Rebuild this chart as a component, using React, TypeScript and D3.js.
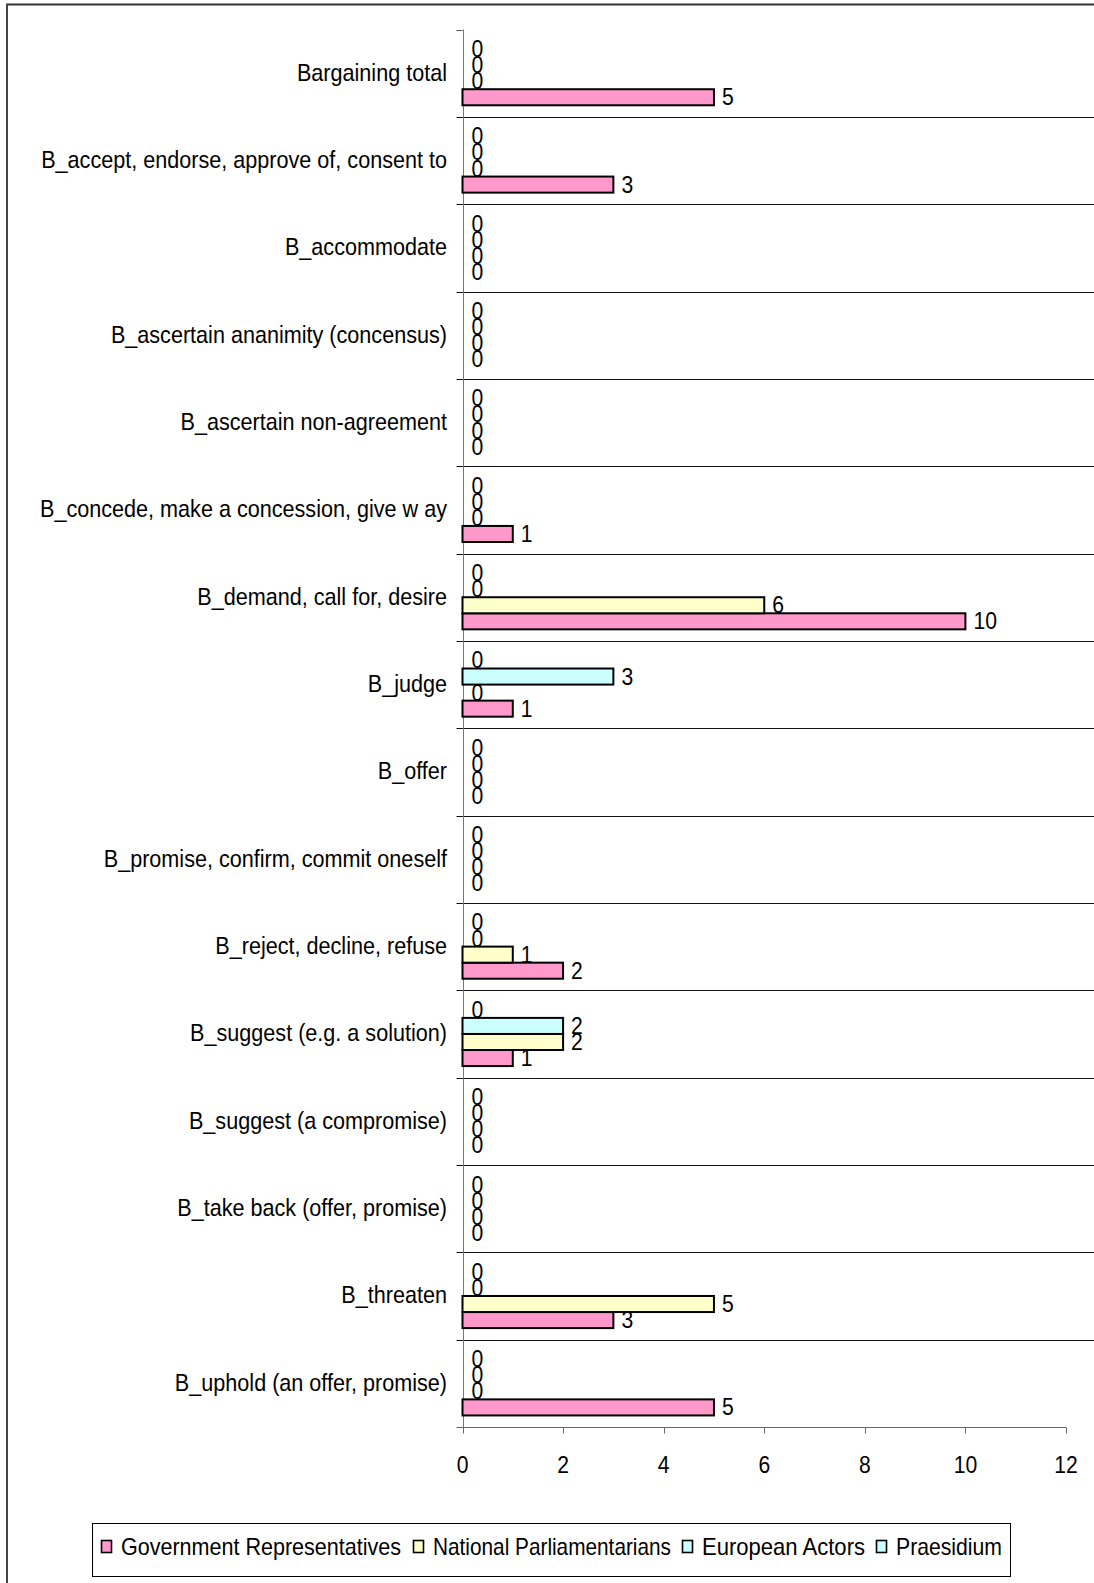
import React from "react";
import * as d3 from "d3";

const categories = [
  "Bargaining total",
  "B_accept, endorse, approve of, consent to",
  "B_accommodate",
  "B_ascertain ananimity (concensus)",
  "B_ascertain non-agreement",
  "B_concede, make a concession, give w ay",
  "B_demand, call for, desire",
  "B_judge",
  "B_offer",
  "B_promise, confirm, commit oneself",
  "B_reject, decline, refuse",
  "B_suggest (e.g. a solution)",
  "B_suggest (a compromise)",
  "B_take back (offer, promise)",
  "B_threaten",
  "B_uphold (an offer, promise)",
];

const seriesNames = [
  "Government Representatives",
  "National Parliamentarians",
  "European Actors",
  "Praesidium",
];

const govReps = [5, 3, 0, 0, 0, 1, 10, 1, 0, 0, 2, 1, 0, 0, 3, 5];
const natParl = [0, 0, 0, 0, 0, 0, 6, 0, 0, 0, 1, 2, 0, 0, 5, 0];
const euroActors = [0, 0, 0, 0, 0, 0, 0, 3, 0, 0, 0, 2, 0, 0, 0, 0];
const praesidium = [0, 0, 0, 0, 0, 0, 0, 0, 0, 0, 0, 0, 0, 0, 0, 0];

const seriesColors = ["#FF99CC", "#FFFFCC", "#CCFFFF", "#CCFFFF"];
const xTicks = [0, 2, 4, 6, 8, 10, 12];

const W = 1094;
const H = 1583;
const FONT = "'Liberation Sans', Arial, sans-serif";
const px = (v: number) => Math.round(v) + 0.5;

// condensed text: horizontal squeeze around the anchor point
function Txt(props: {
  x: number;
  y: number;
  sx: number;
  size: number;
  anchor?: "start" | "middle" | "end";
  children: React.ReactNode;
}) {
  return (
    <text
      transform={`translate(${props.x},${props.y}) scale(${props.sx},1)`}
      fontSize={props.size}
      textAnchor={props.anchor ?? "start"}
      dominantBaseline="central"
      fill="#000"
    >
      {props.children}
    </text>
  );
}

export default function App() {
  const series = [govReps, natParl, euroActors, praesidium];
  const x = d3.scaleLinear().domain([0, 12]).range([462.5, 1066]);
  const y = d3.scaleBand<string>().domain(categories).range([29.5, 1427]);
  // series 0 sits at the bottom slot of each group
  const slot = d3
    .scaleBand<number>()
    .domain([3, 2, 1, 0])
    .range([0, y.bandwidth()])
    .paddingOuter(0.72);
  const x0 = x(0);
  const bh = slot.bandwidth();
  const axisY = 1427.5;

  // legend entries laid out in one row
  const legendX = [101, 413, 682, 876];
  const legendW = [280, 238, 163, 106];

  return (
    <svg
      width={W}
      height={H}
      style={{ position: "absolute", left: 0, top: 0, background: "#fff" }}
      fontFamily={FONT}
    >
      {/* outer frame */}
      <line x1={6} y1={4.5} x2={W} y2={4.5} stroke="#333" strokeWidth={2} />
      <line x1={7} y1={4} x2={7} y2={H} stroke="#444" strokeWidth={2} />

      {/* category gridlines */}
      {categories.slice(1).map((c) => (
        <line
          key={"g" + c}
          x1={x0 - 6}
          x2={W}
          y1={px(y(c)!)}
          y2={px(y(c)!)}
          stroke="#111"
          strokeWidth={1}
        />
      ))}
      <line x1={x0 - 6} x2={x0} y1={px(y.range()[0])} y2={px(y.range()[0])} stroke="#555" />

      {/* value axis */}
      <line x1={x0 - 6} x2={x(12)} y1={axisY} y2={axisY} stroke="#666" strokeWidth={1} />
      {xTicks.map((t) => (
        <g key={"t" + t}>
          <line x1={px(x(t))} x2={px(x(t))} y1={axisY} y2={axisY + 6} stroke="#666" />
          <Txt x={x(t)} y={1465} sx={0.88} size={24} anchor="middle">
            {t}
          </Txt>
        </g>
      ))}
      <line x1={px(x0)} x2={px(x0)} y1={29.5} y2={axisY} stroke="#777" strokeWidth={1} />

      {/* category labels */}
      {categories.map((c) => (
        <Txt key={"c" + c} x={447} y={y(c)! + y.bandwidth() / 2 - 1} sx={0.9} size={24} anchor="end">
          {c}
        </Txt>
      ))}

      {/* bars and value labels, series by series */}
      {series.map((vals, si) => (
        <g key={"s" + si}>
          {vals.map((v, ci) => {
            const top = y(categories[ci])! + slot(si)!;
            return (
              <g key={ci}>
                {v > 0 && (
                  <rect
                    x={x0}
                    y={top}
                    width={x(v) - x0}
                    height={bh}
                    fill={seriesColors[si]}
                    stroke="#000"
                    strokeWidth={2}
                  />
                )}
                <Txt x={v > 0 ? x(v) + 8 : x0 + 9} y={top + bh / 2} sx={0.88} size={24}>
                  {v}
                </Txt>
              </g>
            );
          })}
        </g>
      ))}

      {/* legend */}
      <rect x={92.5} y={1523.5} width={918} height={53} fill="#fff" stroke="#000" strokeWidth={1} />
      {seriesNames.map((n, i) => {
        const lx = legendX[i];
        return (
          <g key={"l" + n}>
            <rect
              x={lx + 0.5}
              y={1540.5}
              width={10}
              height={12}
              fill={seriesColors[i]}
              stroke="#000"
              strokeWidth={1.6}
            />
            <text
              x={lx + 20}
              y={1546}
              fontSize={24}
              dominantBaseline="central"
              textLength={legendW[i]}
              lengthAdjust="spacingAndGlyphs"
            >
              {n}
            </text>
          </g>
        );
      })}
    </svg>
  );
}
